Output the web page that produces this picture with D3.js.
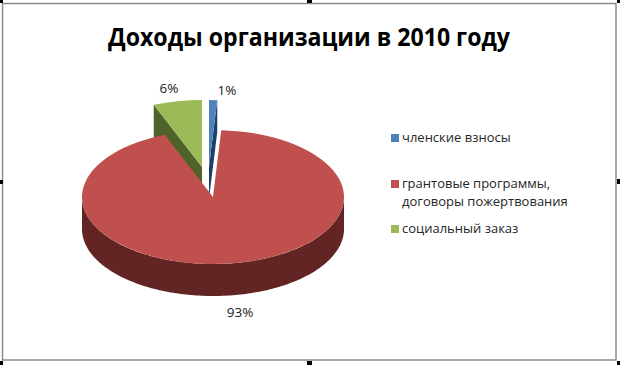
<!DOCTYPE html>
<html>
<head>
<meta charset="utf-8">
<script src="https://cdn.jsdelivr.net/npm/d3@7"></script>
<style>
  html, body { margin: 0; padding: 0; background: #fff; }
  svg { display: block; }
  text { font-family: "Open Sans", sans-serif; }
</style>
</head>
<body>
<svg id="chart"></svg>
<script>
const titleText = "Доходы организации в 2010 году";
const categories = ["членские взносы", "грантовые программы, договоры пожертвования", "социальный заказ"];
const values = [1, 93, 6];
const percentLabels = ["1%", "93%", "6%"];
const topColors = ["#4f81bd", "#c0504d", "#9bbb59"];
const sideColors = ["#1f3d66", "#632523", "#4f6228"];

const width = 620, height = 365;
const rx = 131, ry = 67, depth = 32;
// where each slice's tip sits, the pie is pulled apart
const centers = [[209, 167], [213, 197], [202, 167]];
const labelPos = [[227, 90], [240, 312], [169, 88]];
const legendY = [138, 184, 229];

const svg = d3.select("#chart").attr("width", width).attr("height", height);

// frame and resize handles
svg.append("rect")
  .attr("x", 2.5).attr("y", 3.5)
  .attr("width", 613.5).attr("height", 356.5)
  .attr("fill", "#fff")
  .attr("stroke", "#8c8c8c")
  .attr("stroke-width", 1.5);

const handles = [[0, 0, 3, 3], [307, 0, 5, 3], [617, 0, 3, 3], [0, 180, 3, 4], [617, 179, 3, 5], [0, 361, 3, 4], [307, 361, 5, 4], [617, 361, 3, 4]];
svg.selectAll(".handle").data(handles).join("rect")
  .attr("class", "handle")
  .attr("x", d => d[0]).attr("y", d => d[1])
  .attr("width", d => d[2]).attr("height", d => d[3])
  .attr("fill", "#000");

svg.append("text")
  .attr("x", 309).attr("y", 46)
  .attr("text-anchor", "middle")
  .attr("font-size", 25.5)
  .attr("font-weight", 700)
  .attr("textLength", 402)
  .attr("lengthAdjust", "spacingAndGlyphs")
  .attr("fill", "#000")
  .text(titleText);

const pie = d3.pie().sort(null).value(d => d);
const arcs = pie(values);

const px = (i, a) => centers[i][0] + rx * Math.sin(a);
const py = (i, a) => centers[i][1] - ry * Math.cos(a);
const line = d3.line();

const g = svg.append("g");

// draw order: the back slices first, the big red one over them
[2, 0, 1].forEach(i => {
  const d = arcs[i];
  const c = centers[i];

  // radial side faces looking towards the viewer
  [d.startAngle, d.endAngle].forEach((a, k) => {
    const visible = k === 0 ? Math.sin(a) < -1e-6 : Math.sin(a) > 1e-6;
    if (!visible) return;
    g.append("path")
      .attr("d", line([c, [px(i, a), py(i, a)], [px(i, a), py(i, a) + depth], [c[0], c[1] + depth]]) + "Z")
      .attr("fill", sideColors[i]);
  });

  // outer wall, only the front half of the ellipse shows
  const from = Math.max(d.startAngle, Math.PI / 2);
  const to = Math.min(d.endAngle, 3 * Math.PI / 2);
  if (to > from) {
    const steps = d3.range(from, to, 0.02).concat([to]);
    const upper = steps.map(a => [px(i, a), py(i, a)]);
    const lower = steps.map(a => [px(i, a), py(i, a) + depth]).reverse();
    g.append("path")
      .attr("d", line(upper.concat(lower)) + "Z")
      .attr("fill", sideColors[i]);
  }

  // top face
  const arc = d3.arc().innerRadius(0).outerRadius(rx);
  g.append("path")
    .attr("transform", `translate(${c[0]},${c[1]}) scale(1,${ry / rx})`)
    .attr("d", arc(d))
    .attr("fill", topColors[i]);
});

svg.selectAll(".pct").data(percentLabels).join("text")
  .attr("class", "pct")
  .attr("x", (d, i) => labelPos[i][0])
  .attr("y", (d, i) => labelPos[i][1] + 5)
  .attr("text-anchor", "middle")
  .attr("font-size", 13.5)
  .attr("fill", "#1a1a1a")
  .text(d => d);

// legend
const legend = svg.selectAll(".legend").data(categories).join("g")
  .attr("class", "legend")
  .attr("transform", (d, i) => `translate(391,${legendY[i]})`);

legend.append("rect")
  .attr("x", 0).attr("y", -4)
  .attr("width", 8).attr("height", 8)
  .attr("fill", (d, i) => topColors[i]);

legend.each(function (d) {
  const parts = d.includes(", ") ? [d.slice(0, d.indexOf(", ") + 1), d.slice(d.indexOf(", ") + 2)] : [d];
  const t = d3.select(this).append("text")
    .attr("font-size", 13)
    .attr("fill", "#262626");
  parts.forEach((p, j) => {
    t.append("tspan").attr("x", 11).attr("y", 4 + j * 18).text(p);
  });
});
</script>
</body>
</html>
